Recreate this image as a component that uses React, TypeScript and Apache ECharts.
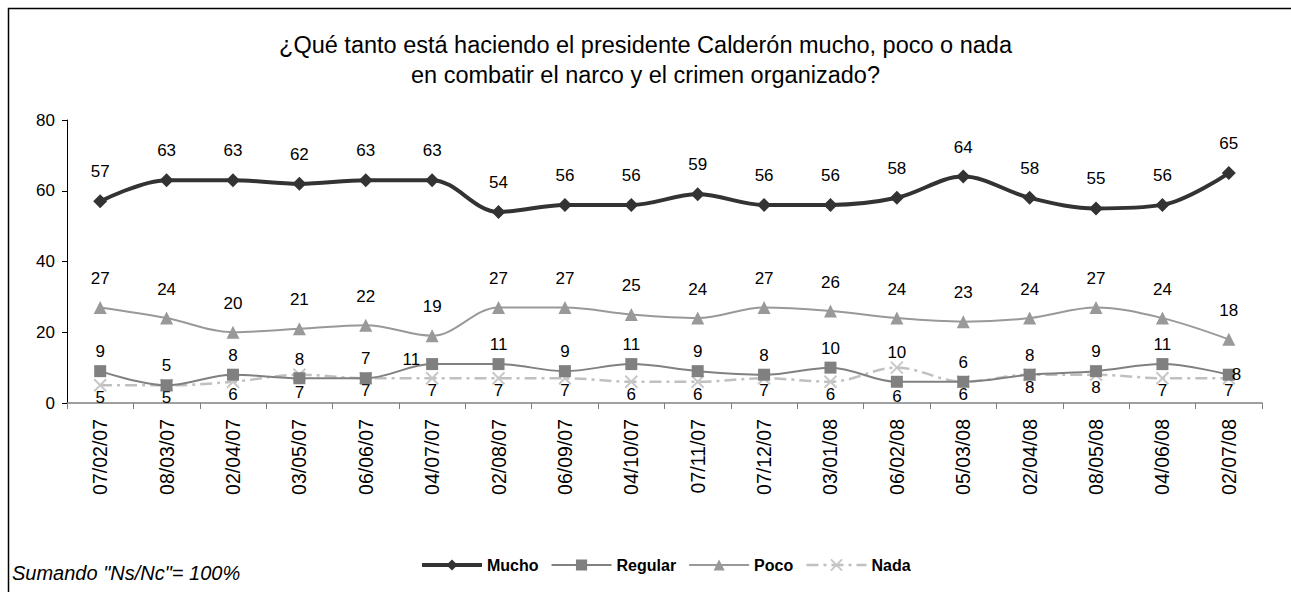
import React, { useEffect, useRef } from "react";
import * as echarts from "echarts";

const categories = [
  "07/02/07", "08/03/07", "02/04/07", "03/05/07", "06/06/07", "04/07/07",
  "02/08/07", "06/09/07", "04/10/07", "07/11/07", "07/12/07", "03/01/08",
  "06/02/08", "05/03/08", "02/04/08", "08/05/08", "04/06/08", "02/07/08",
];
const mucho = [57, 63, 63, 62, 63, 63, 54, 56, 56, 59, 56, 56, 58, 64, 58, 55, 56, 65];
const regular = [9, 5, 8, 7, 7, 11, 11, 9, 11, 9, 8, 10, 6, 6, 8, 9, 11, 8];
const poco = [27, 24, 20, 21, 22, 19, 27, 27, 25, 24, 27, 26, 24, 23, 24, 27, 24, 18];
const nada = [5, 5, 6, 8, 7, 7, 7, 7, 6, 6, 7, 6, 10, 6, 8, 8, 7, 7];
const yTicks = { min: 0, max: 80, interval: 20 };

const titleText =
  "¿Qué tanto está haciendo el presidente Calderón mucho, poco o nada\nen combatir el narco y el crimen organizado?";
const footnote = 'Sumando "Ns/Nc"= 100%';

const FONT = "'Liberation Sans', Arial, sans-serif";

// label placement overrides (style only)
const regularLabelOverrides: Record<number, any> = {
  3: { position: "bottom", distance: 0 },
  5: { position: "left", distance: 6, offset: [0, -5] },
  12: { position: "bottom", distance: 0 },
  17: { position: "right", distance: -3 },
};
const nadaLabelOverrides: Record<number, any> = {
  3: { position: "top", distance: 0 },
  12: { position: "top", distance: 0 },
};

export default function App() {
  const ref = useRef<HTMLDivElement>(null);
  useEffect(() => {
    if (!ref.current) return;
    const chart = echarts.init(ref.current, null, { renderer: "svg" });
    const labelBase = { show: true, color: "#000", fontSize: 17, fontFamily: FONT };
    const option: any = {
      animation: false,
      backgroundColor: "#fff",
      title: {
        text: titleText,
        left: "center",
        top: 25,
        textStyle: { fontSize: 23.5, fontWeight: "normal", color: "#000", fontFamily: FONT, lineHeight: 30 },
      },
      graphic: [
        {
          type: "rect",
          shape: { x: 8.5, y: 8.5, width: 1300, height: 600 },
          style: { fill: "none", stroke: "#000", lineWidth: 1.5 },
          silent: true,
          z: -1,
        },
        {
          type: "text",
          left: 12,
          top: 563,
          style: { text: footnote, fontSize: 20, fontStyle: "italic", fill: "#000", fontFamily: FONT },
        },
      ],
      legend: {
        left: 415,
        top: 552,
        itemWidth: 60,
        itemHeight: 14,
        itemGap: 12,
        textStyle: { fontSize: 16, fontWeight: "bold", color: "#000", fontFamily: FONT },
        data: [
          { name: "Mucho", lineStyle: { width: 4 } },
          { name: "Regular", lineStyle: { width: 2 } },
          { name: "Poco", lineStyle: { width: 2 } },
          { name: "Nada", lineStyle: { width: 2.5 } },
        ],
      },
      grid: { left: 67, right: 29, top: 120, bottom: 189, containLabel: false },
      xAxis: {
        type: "category",
        data: categories,
        boundaryGap: true,
        axisLine: { lineStyle: { color: "#808080", width: 1.5 } },
        axisTick: { show: true, length: 6, lineStyle: { color: "#808080" } },
        axisLabel: { rotate: 90, margin: 16, fontSize: 19.5, color: "#000", fontFamily: FONT, interval: 0 },
      },
      yAxis: {
        type: "value",
        min: yTicks.min,
        max: yTicks.max,
        interval: yTicks.interval,
        axisLine: { show: true, lineStyle: { color: "#000", width: 1 } },
        axisTick: { show: true, length: 5, lineStyle: { color: "#000" } },
        splitLine: { show: false },
        axisLabel: { fontSize: 17, color: "#000", fontFamily: FONT, margin: 12 },
      },
      series: [
        {
          name: "Nada",
          type: "line",
          data: nada.map((v, i) => ({ value: v, label: nadaLabelOverrides[i] })),
          smooth: 0.35,
          symbol: "path://M0,0L10,10M10,0L0,10",
          symbolSize: 12,
          lineStyle: { color: "#c0c0c0", width: 2.5, type: [12, 5, 3, 5] },
          itemStyle: { color: "#c8c8c8", borderColor: "#c8c8c8", borderWidth: 2 },
          label: { ...labelBase, position: "bottom", distance: -3 },
          z: 2,
        },
        {
          name: "Regular",
          type: "line",
          data: regular.map((v, i) => ({ value: v, label: regularLabelOverrides[i] })),
          smooth: 0.35,
          symbol: "rect",
          symbolSize: 12,
          lineStyle: { color: "#808080", width: 2 },
          itemStyle: { color: "#808080" },
          label: { ...labelBase, position: "top", distance: 5 },
          z: 3,
        },
        {
          name: "Poco",
          type: "line",
          data: poco,
          smooth: 0.35,
          symbol: "triangle",
          symbolSize: 13,
          lineStyle: { color: "#999999", width: 2 },
          itemStyle: { color: "#999999" },
          label: { ...labelBase, position: "top", distance: 14 },
          z: 4,
        },
        {
          name: "Mucho",
          type: "line",
          data: mucho,
          smooth: 0.35,
          symbol: "diamond",
          symbolSize: 14,
          lineStyle: { color: "#333333", width: 4 },
          itemStyle: { color: "#333333" },
          label: { ...labelBase, position: "top", distance: 14 },
          z: 5,
        },
      ],
    };
    chart.setOption(option);
    return () => chart.dispose();
  }, []);
  return (
    <div
      ref={ref}
      style={{ position: "fixed", left: 0, top: 0, width: "1291px", height: "592px" }}
    />
  );
}
